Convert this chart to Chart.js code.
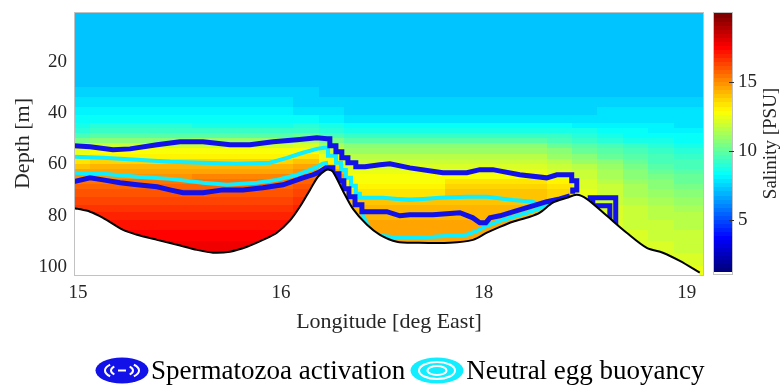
<!DOCTYPE html>
<html>
<head>
<meta charset="utf-8">
<script src="https://cdn.jsdelivr.net/npm/chart.js@4.4.1/dist/chart.umd.min.js"></script>
<style>
  html, body { margin: 0; padding: 0; background: #fff; }
  #wrap { position: relative; width: 782px; height: 387px; }
  #legend {
    position: absolute; left: 95px; top: 357px;
    display: flex; align-items: center;
    font: 27px 'Liberation Serif', 'Times New Roman', serif; line-height: 27px; color: #000;
  }
  #legend .item { display: flex; align-items: center; margin-right: 5px; white-space: nowrap; }
  #legend canvas { margin-right: 2px; }
</style>
</head>
<body>
<div id="wrap">
  <canvas id="section" width="782" height="387"></canvas>
  <div id="legend"></div>
</div>
<script>
// axis ticks (x is position along the section, labelled with longitude)
const lonTickPos = [0, 1, 2, 3];
const lonTickLabels = ['15', '16', '18', '19'];
const depthTicks = [20, 40, 60, 80, 100];
const salinityTicks = [5, 10, 15];
const salinityMin = 1, salinityMax = 20.1;
const depthMin = 0.6, depthMax = 103.2;

// salinity grid: cell edges along the section and in depth
const colEdges = [-0.0625, 0.0625, 0.1875, 0.3125, 0.4375, 0.5625, 0.6875, 0.8125, 0.9375, 1.0625,
  1.1875, 1.3125, 1.4375, 1.5625, 1.6875, 1.8125, 1.9375, 2.0625, 2.1875, 2.3125, 2.4375, 2.5625,
  2.6875, 2.8125, 2.9375, 3.0625, 3.1875];
const depthEdges = [0, 5, 10, 15, 20, 25, 30, 34, 38, 41, 44, 46, 48, 50, 52, 54, 56, 58, 60, 62,
  64, 66, 68, 70, 73, 76, 79, 82, 86, 90, 95, 100, 105];
const _ = null;
const salinity = [
  [7.3,7.3,7.3,7.3,7.3,7.3,7.3,7.3,7.3,7.3,7.3,7.2,7.2,7.2,7.2,7.2,7.2,7.2,7.2,7.2,7.3,7.3,7.3,7.3,7.3,7.3],
  [7.3,7.3,7.3,7.3,7.3,7.3,7.3,7.3,7.3,7.3,7.3,7.2,7.2,7.2,7.2,7.2,7.2,7.2,7.2,7.2,7.3,7.3,7.3,7.3,7.3,7.3],
  [7.3,7.3,7.3,7.3,7.3,7.3,7.3,7.3,7.3,7.3,7.3,7.2,7.2,7.2,7.2,7.2,7.2,7.2,7.2,7.2,7.3,7.3,7.3,7.3,7.3,7.3],
  [7.3,7.3,7.3,7.3,7.3,7.3,7.3,7.3,7.3,7.3,7.3,7.2,7.2,7.2,7.2,7.2,7.2,7.2,7.2,7.2,7.3,7.3,7.3,7.3,7.3,7.3],
  [7.3,7.3,7.3,7.3,7.3,7.3,7.3,7.3,7.3,7.3,7.3,7.2,7.2,7.2,7.2,7.2,7.2,7.2,7.2,7.2,7.3,7.3,7.3,7.3,7.3,7.3],
  [7.4,7.4,7.4,7.4,7.4,7.3,7.3,7.3,7.3,7.3,7.3,7.2,7.2,7.2,7.2,7.2,7.2,7.2,7.2,7.2,7.3,7.3,7.3,7.3,7.3,7.3],
  [7.6,7.6,7.6,7.6,7.6,7.6,7.5,7.5,7.5,7.5,7.3,7.3,7.3,7.3,7.3,7.3,7.3,7.3,7.3,7.3,7.3,7.3,7.4,7.4,7.4,7.4],
  [7.8,7.9,7.9,7.9,7.9,7.8,7.8,7.8,7.8,7.7,7.6,7.5,7.5,7.5,7.5,7.5,7.5,7.5,7.5,7.5,7.5,7.6,7.6,7.6,7.6,7.6],
  [8.1,8.2,8.2,8.2,8.2,8.1,8.1,8.1,8.1,8.0,7.9,7.7,7.7,7.7,7.7,7.7,7.7,7.7,7.7,7.7,7.7,7.8,7.8,7.8,7.8,7.8],
  [8.4,8.6,8.6,8.6,8.6,8.5,8.5,8.5,8.5,8.5,8.3,8.0,8.0,8.0,8.0,8.0,8.0,8.0,8.0,8.0,8.0,8.0,7.9,7.9,7.9,7.9],
  [8.8,9.0,9.0,9.0,9.0,8.9,8.9,8.9,8.9,9.0,8.7,8.4,8.4,8.4,8.4,8.4,8.4,8.4,8.4,8.4,8.3,8.2,8.1,8.1,8.0,8.0],
  [9.2,9.4,9.4,9.4,9.4,9.3,9.3,9.3,9.3,9.5,9.1,8.9,8.9,8.9,8.9,8.9,8.9,8.9,8.9,8.9,8.7,8.5,8.4,8.3,8.2,8.2],
  [9.8,10.0,10.0,10.0,10.0,10.1,10.1,10.1,10.1,10.3,9.8,9.5,9.5,9.5,9.5,9.5,9.5,9.5,9.5,9.4,9.1,8.8,8.6,8.5,8.4,8.4],
  [10.6,10.9,10.9,10.9,10.9,11.1,11.1,11.1,11.1,11.3,10.6,10.1,10.1,10.1,10.1,10.1,10.1,10.1,10.1,9.8,9.5,9.2,8.9,8.7,8.6,8.6],
  [11.6,11.9,11.9,11.9,11.9,12.1,12.1,12.1,12.1,12.3,11.4,10.7,10.7,10.7,10.7,10.7,10.7,10.7,10.7,10.3,10.0,9.6,9.3,9.0,8.8,8.8],
  [12.5,12.8,12.8,12.8,12.8,12.9,12.9,12.9,12.9,13.0,12.1,11.2,11.2,11.2,11.2,11.2,11.2,11.2,11.2,10.8,10.4,10.0,9.6,9.3,9.1,9.1],
  [13.0,13.3,13.3,13.3,13.3,13.3,13.3,13.3,13.3,13.5,12.7,11.6,11.6,11.6,11.6,11.6,11.6,11.6,11.6,11.2,10.8,10.4,9.9,9.6,9.4,9.4],
  [13.6,13.8,13.8,13.8,13.8,13.8,13.8,13.8,13.8,14.0,13.3,12.0,12.0,12.0,12.0,12.0,12.0,12.0,12.0,11.6,11.2,10.7,10.2,9.8,9.6,9.6],
  [14.2,14.4,14.4,14.4,14.4,14.4,14.4,14.4,14.4,14.6,13.9,12.3,12.3,12.3,12.3,12.3,12.3,12.3,12.3,12.0,11.6,11.0,10.5,10.1,9.8,9.8],
  [14.6,14.8,14.8,14.8,14.8,14.8,14.8,14.8,14.8,15.0,14.4,12.6,12.6,12.6,12.6,12.6,12.6,12.6,12.6,12.3,11.9,11.3,10.7,10.3,10.0,10.0],
  [15.0,15.1,15.1,15.1,15.1,15.2,15.2,15.2,15.2,15.4,14.9,12.8,12.8,12.8,12.8,12.8,12.8,12.8,12.8,12.6,12.1,11.5,10.9,10.5,10.2,10.2],
  [15.4,15.5,15.5,15.5,15.5,15.5,15.5,15.5,15.5,15.7,15.3,13.0,13.0,13.0,13.0,13.5,13.5,13.5,13.5,13.2,12.3,11.7,11.1,10.7,10.4,10.4],
  [15.7,15.8,15.8,15.8,15.8,15.8,15.8,15.8,15.8,16.0,15.7,13.2,13.2,13.2,13.2,13.8,13.8,13.8,13.8,13.5,12.4,11.9,11.3,10.9,10.6,10.6],
  [16.0,16.1,16.1,16.1,16.1,16.1,16.1,16.1,16.1,16.3,16.0,13.5,13.5,13.5,13.5,14.0,14.0,14.0,14.0,13.7,12.5,12.0,11.5,11.1,10.8,10.8],
  [16.4,16.5,16.5,16.5,16.5,16.5,16.5,16.5,16.5,16.6,_,14.1,14.1,14.1,14.1,14.1,14.1,14.1,14.1,13.8,12.4,12.1,11.7,11.4,11.1,11.1],
  [16.7,16.8,16.8,16.8,16.8,16.8,16.8,16.8,16.8,16.9,_,14.4,14.4,14.4,14.4,14.4,14.4,14.4,14.4,14.0,12.3,12.2,11.9,11.6,11.4,11.4],
  [16.9,17.0,17.0,17.0,17.0,17.0,17.0,17.0,17.0,17.1,_,14.5,14.5,14.5,14.5,14.5,14.5,14.5,14.5,_,_,12.3,12.0,11.8,11.6,11.6],
  [_,17.3,17.3,17.3,17.3,17.3,17.3,17.3,17.3,_,_,14.6,14.6,14.6,14.6,14.6,14.6,14.6,_,_,_,12.3,12.1,11.9,11.8,11.8],
  [_,_,17.7,17.7,17.7,17.7,17.7,17.7,17.7,_,_,_,14.6,14.6,14.6,14.6,14.6,_,_,_,_,_,12.2,12.1,12.0,12.0],
  [_,_,_,18.0,18.0,18.0,18.0,18.0,_,_,_,_,_,14.6,14.6,14.6,_,_,_,_,_,_,12.3,12.2,12.1,12.1],
  [_,_,_,_,_,_,_,_,_,_,_,_,_,_,_,_,_,_,_,_,_,_,_,12.4,12.3,12.3],
  [_,_,_,_,_,_,_,_,_,_,_,_,_,_,_,_,_,_,_,_,_,_,_,_,12.5,12.5]
];

// sea floor
const bathyLon = [-0.02, 0, 0.059, 0.123, 0.222, 0.291, 0.389, 0.488, 0.586, 0.665, 0.749, 0.833, 0.911,
  0.980, 1.044, 1.094, 1.143, 1.182, 1.217, 1.236, 1.256, 1.305, 1.355, 1.424, 1.488, 1.571, 1.670,
  1.833, 1.946, 2.015, 2.079, 2.143, 2.227, 2.276, 2.340, 2.409, 2.458, 2.507, 2.606, 2.704, 2.803,
  2.882, 2.966, 3.064];
const bathyDepth = [77.2, 77.4, 78.5, 80.9, 85.6, 87.5, 89.5, 91.4, 93.4, 94.5, 94.1, 92.2, 89.5,
  86.7, 82.0, 76.5, 70.0, 64.9, 62.5, 62.1, 62.9, 70.3, 77.4, 83.6, 87.5, 90.2, 90.6,
  90.6, 89.5, 86.7, 84.4, 82.4, 80.5, 78.9, 75.0, 73.1, 71.9, 73.5, 80.1, 86.7, 92.6,
  94.5, 97.7, 102.3];

// spermatozoa activation outline
const spermUpperLon = [-0.02, 0.059, 0.172, 0.256, 0.389, 0.502, 0.616, 0.749, 0.847, 0.961, 1.079,
  1.177, 1.227, 1.241, 1.241, 1.271, 1.271, 1.300, 1.300, 1.330, 1.330, 1.369, 1.369, 1.414, 1.488,
  1.537, 1.635, 1.798, 1.916, 1.980, 2.044, 2.177, 2.310, 2.360, 2.433, 2.433, 2.458, 2.458, 2.438, 2.438];
const spermUpperDepth = [52.8, 53.2, 54.3, 54.0, 52.4, 51.2, 51.2, 52.4, 52.4, 51.2, 50.4,
  49.7, 50.0, 50.0, 52.8, 52.8, 55.1, 55.1, 57.5, 57.5, 59.4, 59.4, 61.0, 61.0, 60.2,
  59.8, 61.4, 63.3, 63.3, 62.1, 62.1, 64.1, 65.3, 64.1, 64.1, 66.4, 66.4, 70.0, 70.0, 71.5];
const spermLowerLon = [-0.02, 0.059, 0.123, 0.207, 0.291, 0.389, 0.453, 0.517, 0.616, 0.714, 0.813,
  0.911, 1.010, 1.108, 1.158, 1.192, 1.222, 1.256, 1.256, 1.286, 1.286, 1.310, 1.310, 1.335, 1.335,
  1.365, 1.365, 1.399, 1.399, 1.522, 1.586, 1.635, 1.749, 1.882, 1.946, 1.980, 2.010, 2.030, 2.079,
  2.163, 2.241, 2.310, 2.374, 2.424];
const spermLowerDepth = [66.8, 65.3, 66.1, 67.2, 68.0, 68.8, 70.0, 71.1, 71.1, 70.0, 70.0,
  69.2, 68.0, 65.3, 64.1, 62.9, 61.4, 61.4, 63.7, 63.7, 66.4, 66.4, 69.6, 69.6, 72.7,
  72.7, 75.8, 75.8, 78.5, 78.5, 80.1, 79.7, 79.7, 78.9, 80.9, 82.8, 82.8, 80.9, 80.1,
  78.1, 76.2, 74.6, 73.5, 72.3];
const spermBoxLon = [2.512, 2.650, 2.650, 2.621, 2.621, 2.537, 2.537];
const spermBoxDepth = [73.1, 73.1, 83.6, 82.0, 76.2, 76.2, 73.5];

// neutral egg buoyancy outline
const eggUpperLon = [-0.02, 0.123, 0.291, 0.453, 0.616, 0.783, 0.946, 1.030, 1.108, 1.177, 1.212,
  1.232, 1.232, 1.271, 1.271, 1.296, 1.296, 1.320, 1.320, 1.345, 1.345, 1.369, 1.369, 1.389, 1.389,
  1.502, 1.635, 1.783, 1.916, 2.015, 2.143, 2.241, 2.276, 2.305];
const eggUpperDepth = [57.1, 57.5, 58.2, 59.0, 59.4, 59.8, 59.4, 57.5, 55.5, 54.0, 53.6,
  53.6, 56.7, 56.7, 59.4, 59.4, 62.2, 62.2, 65.3, 65.3, 68.4, 68.4, 71.5, 71.5, 73.1,
  73.1, 73.9, 73.1, 72.7, 72.7, 73.9, 74.6, 76.2, 77.0];
const eggLowerLon = [-0.02, 0.123, 0.291, 0.453, 0.616, 0.734, 0.882, 0.980, 1.079, 1.143, 1.177, 1.207, 1.232];
const eggLowerDepth = [63.3, 63.7, 64.9, 65.7, 67.2, 68.0, 67.2, 66.1, 64.1, 62.2, 61.0, 59.8, 59.4];
const eggBottomLon = [1.399, 1.419, 1.438, 1.488, 1.586, 1.749, 1.916, 1.966, 2.015, 2.079, 2.163,
  2.241, 2.310, 2.374, 2.433];
const eggBottomDepth = [79.3, 82.4, 85.6, 87.9, 88.7, 88.3, 87.5, 86.0, 84.0, 82.1, 80.1,
  78.2, 76.2, 74.2, 73.1];

const serif = "'Liberation Serif', 'Times New Roman', serif";
const textGrey = '#262626';

function toPoints(lon, depth) {
  return lon.map((x, i) => ({ x, y: depth[i] }));
}
// several polylines in one dataset, broken by a null point
function joinSegments(segments) {
  const out = [];
  segments.forEach(([lon, depth], k) => {
    if (k > 0) out.push({ x: lon[0], y: null });
    out.push(...toPoints(lon, depth));
  });
  return out;
}

// jet with a white first entry, 65 levels
const nLevels = 65;
function levelColor(k) {
  if (k <= 0) return '#ffffff';
  const t = (k - 1) / (nLevels - 2);
  const c = v => Math.round(255 * Math.min(1, Math.max(0, v)));
  const r = c(1.5 - Math.abs(4 * t - 3));
  const g = c(1.5 - Math.abs(4 * t - 2));
  const b = c(1.5 - Math.abs(4 * t - 1));
  return `rgb(${r},${g},${b})`;
}
function salinityColor(v) {
  const k = Math.floor((v - salinityMin) / (salinityMax - salinityMin) * nLevels);
  return levelColor(Math.min(nLevels - 1, Math.max(0, k)));
}

// keep the plot box exactly where the layout puts it
function fixedSize(prop, size) {
  return s => {
    s[prop] = size;
    s.paddingTop = s.paddingBottom = s.paddingLeft = s.paddingRight = 0;
  };
}

const sectionPlugin = {
  id: 'section',
  beforeDatasetsDraw(chart) {
    const { ctx, chartArea: a, scales: { x, y } } = chart;
    ctx.save();
    ctx.beginPath();
    ctx.rect(a.left, a.top, a.right - a.left, a.bottom - a.top);
    ctx.clip();
    salinity.forEach((row, j) => {
      const y0 = y.getPixelForValue(depthEdges[j]);
      const y1 = y.getPixelForValue(depthEdges[j + 1]);
      row.forEach((v, i) => {
        if (v === null) return;
        const x0 = x.getPixelForValue(colEdges[i]);
        const x1 = x.getPixelForValue(colEdges[i + 1]);
        ctx.fillStyle = salinityColor(v);
        ctx.fillRect(Math.floor(x0), Math.floor(y0), Math.ceil(x1 - x0) + 1, Math.ceil(y1 - y0) + 1);
      });
    });
    ctx.restore();
  },
  afterDatasetsDraw(chart) {
    const { ctx, chartArea: a, scales: { cb } } = chart;
    ctx.save();
    // axes box
    ctx.strokeStyle = '#c2c2c2';
    ctx.lineWidth = 1;
    ctx.strokeRect(a.left + 0.5, a.top + 0.5, a.right - a.left - 1, a.bottom - a.top);

    // colour bar
    const barL = 713, barW = 19;
    const step = (salinityMax - salinityMin) / nLevels;
    for (let k = 0; k < nLevels; k++) {
      const yHi = cb.getPixelForValue(salinityMin + (k + 1) * step);
      const yLo = cb.getPixelForValue(salinityMin + k * step);
      ctx.fillStyle = levelColor(k);
      ctx.fillRect(barL, Math.floor(yHi), barW, Math.ceil(yLo - yHi) + 1);
    }
    ctx.strokeStyle = '#c2c2c2';
    ctx.strokeRect(barL + 0.5, a.top + 0.5, barW, a.bottom - a.top - 1);
    ctx.strokeStyle = '#333';
    salinityTicks.forEach(v => {
      const py = Math.round(cb.getPixelForValue(v)) + 0.5;
      ctx.beginPath();
      ctx.moveTo(barL + barW - 3, py);
      ctx.lineTo(barL + barW + 2, py);
      ctx.stroke();
    });
    // colour bar label, reading upwards
    ctx.translate(771, (a.top + a.bottom) / 2);
    ctx.rotate(-Math.PI / 2);
    ctx.fillStyle = textGrey;
    ctx.font = `19px ${serif}`;
    ctx.textAlign = 'center';
    ctx.textBaseline = 'middle';
    ctx.fillText('Salinity [PSU]', 0, 0);
    ctx.restore();
  }
};

function drawIcon(g, style, color) {
  const cx = 27, cy = 13.5;
  g.fillStyle = color;
  g.beginPath();
  g.ellipse(cx, cy, 26.5, 13, 0, 0, Math.PI * 2);
  g.fill();
  g.strokeStyle = '#fff';
  g.lineWidth = 2;
  if (style === 'rings') {
    [[18, 8.5], [9.5, 4.5]].forEach(([rx, ry]) => {
      g.beginPath();
      g.ellipse(cx, cy, rx, ry, 0, 0, Math.PI * 2);
      g.stroke();
    });
  } else {
    [[17, 8], [11, 5.5]].forEach(([rx, ry]) => {
      g.beginPath();
      g.ellipse(cx, cy, rx, ry, 0, Math.PI - 0.8, Math.PI + 0.8);
      g.stroke();
      g.beginPath();
      g.ellipse(cx, cy, rx, ry, 0, -0.8, 0.8);
      g.stroke();
    });
    g.beginPath();
    g.moveTo(cx - 4, cy);
    g.lineTo(cx + 4, cy);
    g.stroke();
  }
}

const htmlLegend = {
  id: 'htmlLegend',
  afterUpdate(chart) {
    const box = document.getElementById('legend');
    box.innerHTML = '';
    chart.data.datasets.filter(ds => ds.label).forEach(ds => {
      const item = document.createElement('div');
      item.className = 'item';
      const icon = document.createElement('canvas');
      icon.width = 54;
      icon.height = 27;
      drawIcon(icon.getContext('2d'), ds.iconStyle, ds.borderColor);
      const txt = document.createElement('span');
      txt.textContent = ds.label;
      item.append(icon, txt);
      box.append(item);
    });
  }
};

Chart.defaults.font.family = serif;
Chart.defaults.color = textGrey;

new Chart(document.getElementById('section'), {
  type: 'line',
  data: {
    datasets: [
      {
        label: '',
        data: toPoints(bathyLon, bathyDepth),
        borderColor: '#000',
        borderWidth: 2,
        backgroundColor: '#fff',
        fill: { value: depthMax },
        tension: 0.3,
        pointRadius: 0,
        clip: 0
      },
      {
        label: 'Spermatozoa activation',
        iconStyle: 'activation',
        data: joinSegments([[spermUpperLon, spermUpperDepth], [spermLowerLon, spermLowerDepth],
          [spermBoxLon, spermBoxDepth]]),
        borderColor: '#1111e8',
        borderWidth: 5,
        borderJoinStyle: 'miter',
        pointRadius: 0,
        spanGaps: false,
        fill: false,
        clip: 0
      },
      {
        label: 'Neutral egg buoyancy',
        iconStyle: 'rings',
        data: joinSegments([[eggUpperLon, eggUpperDepth], [eggLowerLon, eggLowerDepth],
          [eggBottomLon, eggBottomDepth]]),
        borderColor: '#10eeff',
        borderWidth: 4,
        borderJoinStyle: 'miter',
        pointRadius: 0,
        spanGaps: false,
        fill: false,
        clip: 0
      }
    ]
  },
  options: {
    responsive: false,
    animation: false,
    devicePixelRatio: 1,
    layout: { padding: { top: 12, left: 0, right: 0, bottom: 0 } },
    plugins: { legend: { display: false }, tooltip: { enabled: false } },
    scales: {
      x: {
        type: 'linear',
        min: -0.02,
        max: 3.085,
        grid: { display: false, drawTicks: false },
        border: { display: false },
        afterBuildTicks: s => { s.ticks = lonTickPos.map(v => ({ value: v })); },
        afterFit: fixedSize('height', 112),
        ticks: {
          callback: (v, i) => lonTickLabels[i],
          font: { size: 19 },
          padding: 7,
          maxRotation: 0,
          autoSkip: false
        },
        title: {
          display: true,
          text: 'Longitude [deg East]',
          font: { size: 22 },
          padding: { top: 0, bottom: 52 }
        }
      },
      y: {
        type: 'linear',
        reverse: true,
        min: depthMin,
        max: depthMax,
        grid: { display: false, drawTicks: false },
        border: { display: false },
        afterBuildTicks: s => { s.ticks = depthTicks.map(v => ({ value: v })); },
        afterFit: fixedSize('width', 74),
        ticks: { font: { size: 19 }, padding: 7 },
        title: {
          display: true,
          text: 'Depth [m]',
          font: { size: 22 },
          padding: { top: 10, bottom: 0 }
        }
      },
      cb: {
        type: 'linear',
        position: 'right',
        min: salinityMin,
        max: salinityMax,
        grid: { display: false, drawTicks: false },
        border: { display: false },
        afterBuildTicks: s => { s.ticks = salinityTicks.map(v => ({ value: v })); },
        afterFit: fixedSize('width', 78),
        ticks: { font: { size: 19 }, padding: 34 }
      }
    }
  },
  plugins: [sectionPlugin, htmlLegend]
});
</script>
</body>
</html>
